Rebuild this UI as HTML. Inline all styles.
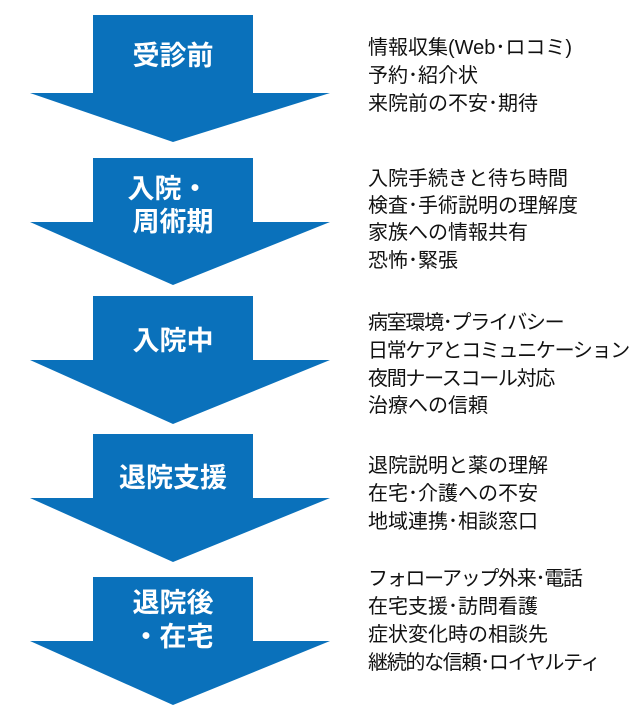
<!DOCTYPE html>
<html><head><meta charset="utf-8"><style>
html,body{margin:0;padding:0;background:#fff;}
svg{display:block}
.l{font-family:"Liberation Sans","Noto Sans CJK JP",sans-serif;font-weight:bold;font-size:27px;fill:#fff;}
.t{font-family:"Liberation Sans","Noto Sans CJK JP",sans-serif;font-size:20px;fill:#111;}
.n{letter-spacing:-1.3px}
</style></head><body>
<svg width="641" height="720" viewBox="0 0 641 720" xmlns="http://www.w3.org/2000/svg">
<g fill="#0A71BB">
<polygon points="93,15 253,15 253,93 330,93 173,142 30,93 93,93"/>
<polygon points="93,158 253,158 253,222 330,222 173,285 30,222 93,222"/>
<polygon points="93,296 253,296 253,360 330,360 173,424 30,360 93,360"/>
<polygon points="93,434 253,434 253,498 330,498 173,562 30,498 93,498"/>
<polygon points="93,577 253,577 253,641 330,641 173,705 30,641 93,641"/>
</g>
<g class="l" text-anchor="middle">
<text x="173" y="65">受診前</text>
<text x="168" y="198">入院・</text>
<text x="173" y="231">周術期</text>
<text x="173" y="350">入院中</text>
<text x="173" y="487">退院支援</text>
<text x="173" y="612">退院後</text>
<text x="173" y="646">・在宅</text>
</g>
<g class="t">
<text x="368" y="54">情報収集(Web･ロコミ)</text>
<text x="368" y="82">予約･紹介状</text>
<text x="368" y="110">来院前の不安･期待</text>
<text x="368" y="185">入院手続きと待ち時間</text>
<text x="368" y="212">検査･手術説明の理解度</text>
<text x="368" y="239">家族への情報共有</text>
<text x="368" y="267">恐怖･緊張</text>
<text x="368" y="329" class="n">病室環境･プライバシー</text>
<text x="368" y="357" class="n">日常ケアとコミュニケーション</text>
<text x="368" y="385" class="n">夜間ナースコール対応</text>
<text x="368" y="412">治療への信頼</text>
<text x="368" y="472">退院説明と薬の理解</text>
<text x="368" y="500">在宅･介護への不安</text>
<text x="368" y="528">地域連携･相談窓口</text>
<text x="368" y="585" class="n">フォローアップ外来･電話</text>
<text x="368" y="613">在宅支援･訪問看護</text>
<text x="368" y="641">症状変化時の相談先</text>
<text x="368" y="669" class="n">継続的な信頼･ロイヤルティ</text>
</g>
</svg>
</body></html>
